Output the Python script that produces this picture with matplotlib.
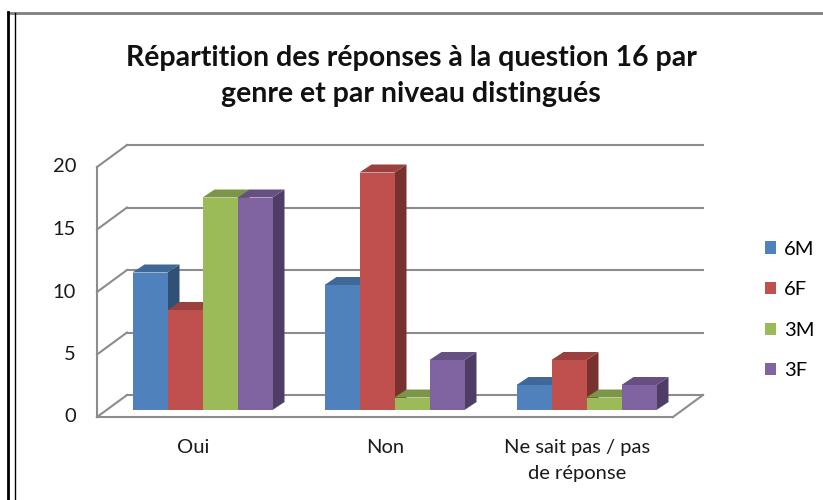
import matplotlib.pyplot as plt
from matplotlib.patches import Polygon
from matplotlib.colors import to_rgb
import numpy as np

categories = ["Oui", "Non", "Ne sait pas / pas\nde réponse"]
series = ["6M", "6F", "3M", "3F"]
values_6m = [11, 10, 2]
values_6f = [8, 19, 4]
values_3m = [17, 1, 1]
values_3f = [17, 4, 2]
yticks = [0, 5, 10, 15, 20]

colors = ["#4F81BD", "#C0504D", "#9BBB59", "#8064A2"]
grid_color = "#8C8C8C"
text_color = "#1A1A1A"

plt.rcParams["font.family"] = ["Lato", "DejaVu Sans"]

fig = plt.figure(figsize=(8.23, 5), dpi=100)
W, H = 823, 500
ax = fig.add_axes([106.5 / W, 90 / H, 576 / W, 250 / H])
ax.set_xlim(-0.5, 2.5)
ax.set_ylim(0, 20)
ax.axis("off")

# pixels per data unit, used to turn screen offsets into data offsets
px_x = 576 / 3.0
px_y = 250 / 20.0


def off(dx_px, dy_px):
    return dx_px / px_x, dy_px / px_y


back = off(20.5, 15)
front = off(-9.5, -7)
depth = off(12, 8)

x0, x1 = ax.get_xlim()

# back wall gridlines and the short diagonals on the left wall
for v in yticks:
    ax.plot([x0 + back[0], x1 + back[0]], [v + back[1], v + back[1]],
            color=grid_color, lw=1.5, clip_on=False, zorder=1)
    ax.plot([x0 + front[0], x0 + back[0]], [v + front[1], v + back[1]],
            color=grid_color, lw=1.5, clip_on=False, zorder=1)
    ax.text(x0 + front[0] - 21 / px_x, v + front[1], str(v), ha="right",
            va="center", fontsize=14.5, color=text_color)

# left wall edge and the floor outline
ax.plot([x0 + front[0]] * 2, [front[1], yticks[-1] + front[1]],
        color=grid_color, lw=1.5, clip_on=False, zorder=1)
ax.plot([x0 + front[0], x1 + front[0]], [front[1], front[1]],
        color=grid_color, lw=1.5, clip_on=False, zorder=1)
ax.plot([x1 + front[0], x1 + back[0]], [front[1], back[1]],
        color=grid_color, lw=1.5, clip_on=False, zorder=1)


def shade(c, f):
    r, g, b = to_rgb(c)
    return (r * f, g * f, b * f)


width = 35 / px_x
data = [values_6m, values_6f, values_3m, values_3f]
pos = np.arange(len(categories))
handles = []
for i in range(len(categories)):
    for j, (vals, col) in enumerate(zip(data, colors)):
        left = pos[i] + (j - 2) * width
        right = left + width
        v = vals[i]
        z = 3 + j
        side = Polygon([(right, 0), (right + depth[0], depth[1]),
                        (right + depth[0], v + depth[1]), (right, v)],
                       closed=True, facecolor=shade(col, 0.62), lw=0,
                       clip_on=False, zorder=z)
        top = Polygon([(left, v), (right, v), (right + depth[0], v + depth[1]),
                       (left + depth[0], v + depth[1])],
                      closed=True, facecolor=shade(col, 0.8), lw=0,
                      clip_on=False, zorder=z)
        ax.add_patch(side)
        ax.add_patch(top)
        b = ax.bar(left, v, width=width, align="edge", color=col, lw=0,
                   zorder=z, clip_on=False)
        if i == 0:
            handles.append(b)

for i, cat in enumerate(categories):
    ax.text(pos[i] + front[0], front[1] - 22 / px_y, cat, ha="center",
            va="top", fontsize=14.5, linespacing=1.62, color=text_color)

ax.legend(handles=handles, labels=series, loc="center left",
          bbox_to_anchor=(755 / W, 190 / H), bbox_transform=fig.transFigure,
          frameon=False, fontsize=14.5, handlelength=0.55, handleheight=0.55,
          handletextpad=0.4, labelspacing=1.17, borderpad=0)

fig.text(411 / W, 1 - 76 / H,
         "Répartition des réponses à la question 16 par\ngenre et par niveau distingués",
         ha="center", va="center", fontsize=20.5, fontweight="bold",
         linespacing=1.45, color="#111111")

# frame around the chart area
fig.add_artist(plt.Line2D([8 / W, 1], [1 - 13 / H] * 2, transform=fig.transFigure,
                          color="#7F7F7F", lw=2))
fig.add_artist(plt.Line2D([8 / W] * 2, [0, 1 - 12 / H], transform=fig.transFigure,
                          color="black", lw=2))
fig.add_artist(plt.Line2D([15 / W] * 2, [0, 1 - 13 / H], transform=fig.transFigure,
                          color="black", lw=1))

fig.savefig("out.png", dpi=100)
